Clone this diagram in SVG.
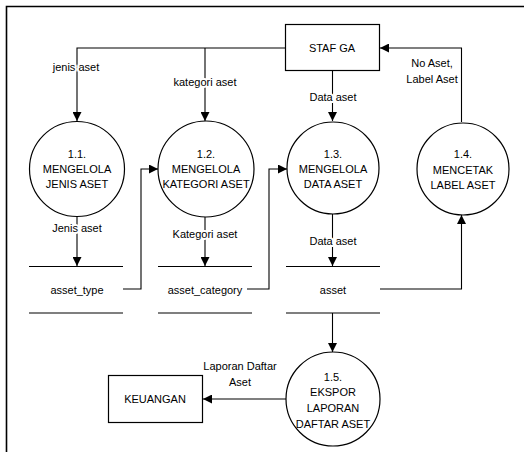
<svg xmlns="http://www.w3.org/2000/svg" width="524" height="452" viewBox="0 0 524 452">
<style>
text{font-family:"Liberation Sans",Arial,sans-serif;font-size:11px;fill:#000;text-anchor:middle}
.n{fill:#fff;stroke:#000;stroke-width:1.2}
.c{fill:none;stroke:#000;stroke-width:1.1}
.lbl{stroke:#fff;stroke-width:4;paint-order:stroke;stroke-linejoin:round}
.ds{stroke:#000;stroke-width:1.1}
</style>
<defs>
<marker id="ah" viewBox="0 0 10 10" refX="10" refY="5" markerWidth="9" markerHeight="9" markerUnits="userSpaceOnUse" orient="auto">
<path d="M0,0 L10,5 L0,10 z" fill="#000"/>
</marker>
</defs>
<rect width="524" height="452" fill="#fff"/>
<path d="M6.5,452 V6.5 H524" fill="none" stroke="#000" stroke-width="1.6"/>
<g id="connectors">
<path class="c" d="M285,48 H77 V121" marker-end="url(#ah)"/>
<path class="c" d="M205,48 V121" marker-end="url(#ah)"/>
<path class="c" d="M332.5,71 V121" marker-end="url(#ah)"/>
<path class="c" d="M461.5,122 V48 H380" marker-end="url(#ah)"/>
<path class="c" d="M77,216 V266" marker-end="url(#ah)"/>
<path class="c" d="M205,217 V266" marker-end="url(#ah)"/>
<path class="c" d="M332.5,214 V266" marker-end="url(#ah)"/>
<path class="c" d="M123,289 H141 V169 H158" marker-end="url(#ah)"/>
<path class="c" d="M247,289 H269 V169 H287" marker-end="url(#ah)"/>
<path class="c" d="M380,289 H461.5 V215" marker-end="url(#ah)"/>
<path class="c" d="M332.5,313 V352" marker-end="url(#ah)"/>
<path class="c" d="M286,399 H203" marker-end="url(#ah)"/>
<text class="lbl" x="76" y="71">jenis aset</text>
<text class="lbl" x="205" y="86">kategori aset</text>
<text class="lbl" x="333" y="101">Data aset</text>
<text class="lbl" x="432" y="67">No Aset,</text>
<text class="lbl" x="432" y="83">Label Aset</text>
<text class="lbl" x="77" y="232">Jenis aset</text>
<text class="lbl" x="205" y="238">Kategori aset</text>
<text class="lbl" x="333" y="245">Data aset</text>
<text class="lbl" x="240" y="370">Laporan Daftar</text>
<text class="lbl" x="240" y="386">Aset</text>
</g>
<g id="staf-ga">
<rect class="n" x="285.5" y="24.5" width="94" height="46"/>
<text x="332" y="52">STAF GA</text>
</g>
<g id="p1-1">
<circle class="n" cx="77" cy="169" r="47.5"/>
<text x="77" y="158">1.1.</text>
<text x="77" y="173">MENGELOLA</text>
<text x="77" y="188">JENIS ASET</text>
</g>
<g id="p1-2">
<circle class="n" cx="206" cy="169" r="48"/>
<text x="206" y="158">1.2.</text>
<text x="206" y="173">MENGELOLA</text>
<text x="206" y="188">KATEGORI ASET</text>
</g>
<g id="p1-3">
<circle class="n" cx="333" cy="168" r="46"/>
<text x="333" y="158">1.3.</text>
<text x="333" y="173">MENGELOLA</text>
<text x="333" y="188">DATA ASET</text>
</g>
<g id="p1-4">
<circle class="n" cx="463" cy="169" r="46"/>
<text x="463" y="158">1.4.</text>
<text x="463" y="174">MENCETAK</text>
<text x="463" y="189">LABEL ASET</text>
</g>
<g id="ds-asset-type">
<line class="ds" x1="29" y1="266.5" x2="123" y2="266.5"/>
<line class="ds" x1="29" y1="313" x2="123" y2="313" stroke="#666"/>
<text x="77" y="294">asset_type</text>
</g>
<g id="ds-asset-category">
<line class="ds" x1="158" y1="266.5" x2="252" y2="266.5"/>
<line class="ds" x1="158" y1="313" x2="252" y2="313"/>
<text x="205" y="294">asset_category</text>
</g>
<g id="ds-asset">
<line class="ds" x1="286" y1="266.5" x2="380" y2="266.5"/>
<line class="ds" x1="286" y1="313" x2="380" y2="313"/>
<text x="333" y="294">asset</text>
</g>
<g id="p1-5">
<circle class="n" cx="333" cy="399" r="47"/>
<text x="333" y="381">1.5.</text>
<text x="333" y="396">EKSPOR</text>
<text x="333" y="412">LAPORAN</text>
<text x="333" y="428">DAFTAR ASET</text>
</g>
<g id="keuangan">
<rect class="n" x="108.5" y="375.5" width="94" height="47"/>
<text x="155" y="403">KEUANGAN</text>
</g>
</svg>
